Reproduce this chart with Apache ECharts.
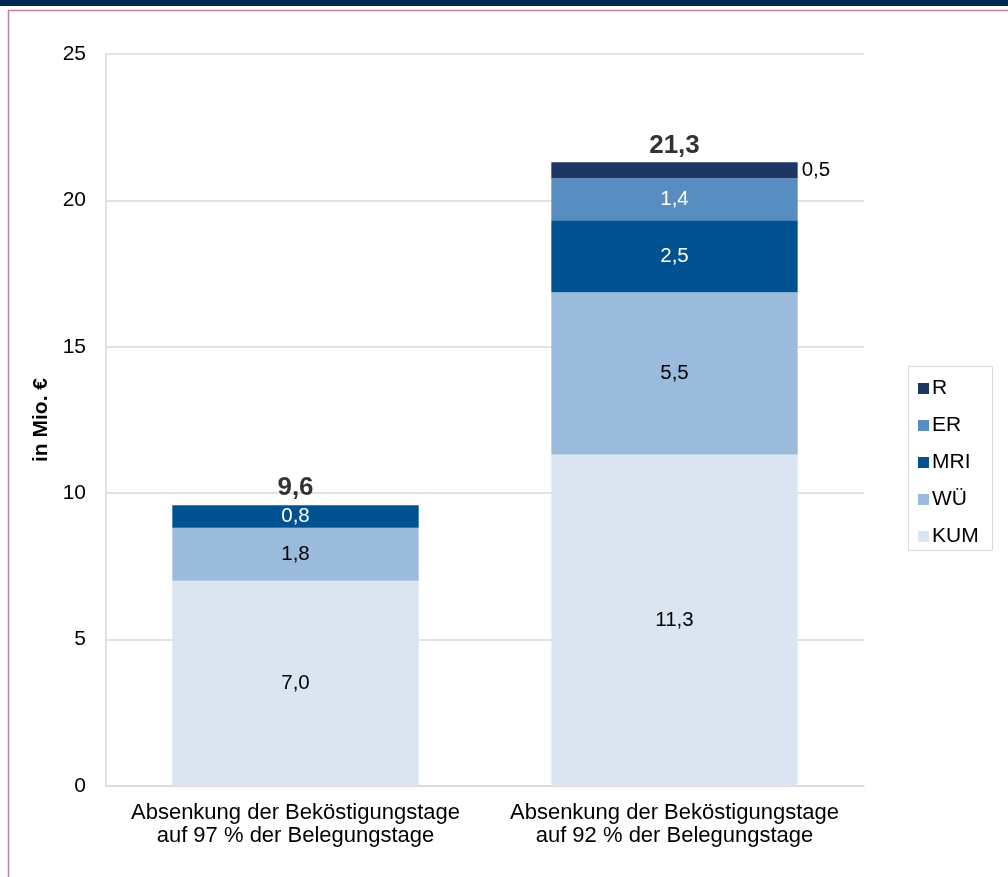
<!DOCTYPE html>
<html>
<head>
<meta charset="utf-8">
<script src="https://cdn.jsdelivr.net/npm/echarts@6/dist/echarts.min.js"></script>
<style>
html,body{margin:0;padding:0;background:#fff;}
#c{width:1008px;height:877px;}
</style>
</head>
<body>
<div id="c"></div>
<script>
const categories = ['Absenkung der Beköstigungstage\nauf 97 % der Belegungstage', 'Absenkung der Beköstigungstage\nauf 92 % der Belegungstage'];
const KUM = [7.01, 11.32];
const WUE = [1.81, 5.54];
const MRI = [0.77, 2.46];
const ER = [null, 1.44];
const R = [null, 0.54];
const totals = [9.6, 21.3];
const yTicks = [0, 5, 10, 15, 20, 25];

const fmt = v => v.toFixed(1).replace('.', ',');
const FONT = '"Liberation Sans", Arial, sans-serif';

function seriesDef(name, data, color, labelColor, labelPos) {
  return {
    name: name, type: 'bar', stack: 'a', data: data, barWidth: '65%',
    itemStyle: { color: color },
    label: {
      show: true, position: labelPos || 'inside', color: labelColor,
      fontFamily: FONT, fontSize: 20.5,
      formatter: p => p.value == null ? '' : fmt(p.value)
    }
  };
}

const chart = echarts.init(document.getElementById('c'), null, { renderer: 'canvas' });
const series = [
  seriesDef('KUM', KUM, '#dae5f1', '#000'),
  seriesDef('WÜ', WUE, '#9bbbdd', '#000'),
  seriesDef('MRI', MRI, '#005291', '#fff'),
  seriesDef('ER', ER, '#578dc0', '#fff'),
  seriesDef('R', R, '#1e3663', '#000', 'right'),
  {
    name: 'total', type: 'scatter', data: totals.map((t, i) => [i, t]),
    symbolSize: 0, silent: true,
    label: { show: true, position: 'top', distance: 4, color: '#000', fontFamily: FONT, fontSize: 26, fontWeight: 'bold',
      formatter: p => fmt(totals[p.dataIndex]) }
  }
];
series[4].label.distance = 4;

chart.setOption({
  animation: false,
  textStyle: { fontFamily: FONT },
  graphic: [
    { type: 'rect', left: 0, top: 0, shape: { width: 1008, height: 6 }, style: { fill: '#002855' } },
    { type: 'line', shape: { x1: 8, y1: 10.5, x2: 1008, y2: 10.5 }, style: { stroke: '#b784a7', lineWidth: 1.5 } },
    { type: 'line', shape: { x1: 8.5, y1: 10, x2: 8.5, y2: 877 }, style: { stroke: '#b784a7', lineWidth: 1.5 } },
    { type: 'rect', shape: { x: 908.5, y: 366.5, width: 84, height: 184 }, style: { fill: 'none', stroke: '#d9d9d9', lineWidth: 1 } }
  ],
  grid: { left: 106, right: 144, top: 54, bottom: 91, containLabel: false },
  legend: {
    orient: 'vertical', left: 913, top: 373,
    data: ['R', 'ER', 'MRI', 'WÜ', 'KUM'],
    itemWidth: 11, itemHeight: 11, itemGap: 16, icon: 'rect',
    textStyle: { fontFamily: FONT, fontSize: 21, color: '#000', padding: [0, 0, 0, -2] }
  },
  xAxis: {
    type: 'category', data: categories,
    axisLine: { lineStyle: { color: '#d9d9d9', width: 1.5 } },
    axisTick: { show: false },
    axisLabel: { interval: 0, fontFamily: FONT, fontSize: 22, color: '#000', lineHeight: 23, margin: 15 }
  },
  yAxis: {
    type: 'value', min: 0, max: 25, interval: 5,
    name: 'in Mio. €', nameLocation: 'middle', nameGap: 31, nameRotate: 90,
    nameTextStyle: { fontFamily: FONT, fontSize: 21, fontWeight: 'bold', color: '#000' },
    axisLine: { show: true, lineStyle: { color: '#d9d9d9', width: 1.5 } },
    axisTick: { show: false },
    axisLabel: { fontFamily: FONT, fontSize: 21, color: '#000', margin: 20,
      formatter: v => yTicks.includes(v) ? String(v) : '' },
    splitLine: { lineStyle: { color: '#d9d9d9', width: 1.5 } }
  },
  series: series
});
</script>
</body>
</html>
